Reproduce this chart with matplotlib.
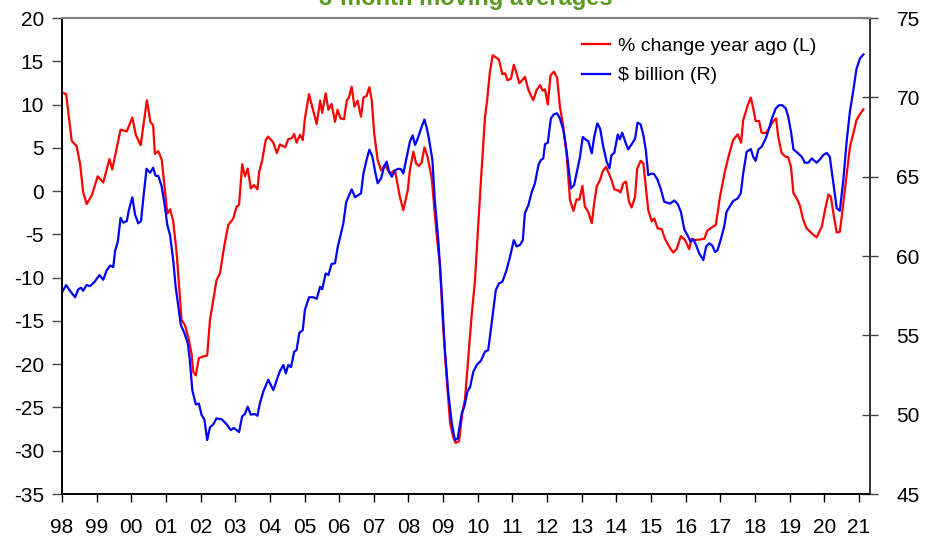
import matplotlib
matplotlib.use("Agg")
import matplotlib.pyplot as plt

plt.rcParams['font.family'] = ['Liberation Sans', 'DejaVu Sans']
plt.rcParams['axes.unicode_minus'] = False

# % change year ago (left axis), decimal years
red_years = [1998.01, 1998.12, 1998.28, 1998.42, 1998.52, 1998.61, 1998.71, 1998.86,
             1999.03, 1999.19, 1999.37, 1999.45, 1999.69, 1999.87, 2000.03, 2000.13,
             2000.27, 2000.45, 2000.55, 2000.63, 2000.68, 2000.78, 2000.88, 2001.04,
             2001.12, 2001.21, 2001.31, 2001.45, 2001.55, 2001.65, 2001.74, 2001.79,
             2001.86, 2001.95, 2002.08, 2002.19, 2002.27, 2002.46, 2002.56, 2002.68,
             2002.80, 2002.94, 2003.04, 2003.11, 2003.20, 2003.28, 2003.36, 2003.45,
             2003.54, 2003.64, 2003.69, 2003.78, 2003.88, 2003.95, 2004.10, 2004.20,
             2004.29, 2004.44, 2004.53, 2004.63, 2004.70, 2004.77, 2004.87, 2004.95,
             2005.01, 2005.13, 2005.22, 2005.35, 2005.45, 2005.51, 2005.61, 2005.69,
             2005.78, 2005.88, 2005.95, 2006.04, 2006.14, 2006.22, 2006.28, 2006.36,
             2006.44, 2006.53, 2006.63, 2006.70, 2006.79, 2006.87, 2006.94, 2007.01,
             2007.11, 2007.21, 2007.32, 2007.47, 2007.61, 2007.75, 2007.85, 2007.98,
             2008.04, 2008.14, 2008.22, 2008.30, 2008.38, 2008.46, 2008.55, 2008.67,
             2008.81, 2008.91, 2009.00, 2009.10, 2009.20, 2009.29, 2009.36, 2009.46,
             2009.55, 2009.63, 2009.73, 2009.82, 2009.92, 2010.01, 2010.11, 2010.21,
             2010.27, 2010.35, 2010.43, 2010.52, 2010.61, 2010.71, 2010.79, 2010.86,
             2010.96, 2011.04, 2011.12, 2011.20, 2011.30, 2011.36, 2011.46, 2011.60,
             2011.70, 2011.80, 2011.87, 2011.94, 2012.02, 2012.10, 2012.20, 2012.29,
             2012.37, 2012.47, 2012.57, 2012.66, 2012.76, 2012.85, 2012.93, 2013.02,
             2013.09, 2013.19, 2013.29, 2013.36, 2013.43, 2013.53, 2013.60, 2013.70,
             2013.80, 2013.86, 2013.94, 2014.04, 2014.12, 2014.20, 2014.28, 2014.36,
             2014.44, 2014.54, 2014.60, 2014.70, 2014.78, 2014.85, 2014.92, 2015.02,
             2015.09, 2015.19, 2015.31, 2015.40, 2015.55, 2015.64, 2015.74, 2015.86,
             2015.98, 2016.10, 2016.17, 2016.27, 2016.41, 2016.54, 2016.62, 2016.75,
             2016.87, 2016.99, 2017.13, 2017.25, 2017.37, 2017.50, 2017.60, 2017.66,
             2017.79, 2017.88, 2017.95, 2018.02, 2018.12, 2018.19, 2018.31, 2018.43,
             2018.53, 2018.61, 2018.67, 2018.77, 2018.87, 2018.96, 2019.04, 2019.11,
             2019.20, 2019.30, 2019.39, 2019.49, 2019.64, 2019.78, 2019.93, 2020.02,
             2020.12, 2020.19, 2020.28, 2020.36, 2020.45, 2020.55, 2020.65, 2020.74,
             2020.84, 2020.93, 2021.03, 2021.13]
red_vals = [11.4, 11.2, 5.8, 5.2, 3.2, -0.1, -1.5, -0.5,
            1.7, 1.0, 3.7, 2.5, 7.1, 6.9, 8.5, 6.5,
            5.3, 10.5, 8.0, 7.6, 4.3, 4.6, 3.6, -2.6,
            -2.1, -3.5, -7.2, -14.9, -15.5, -17.0, -18.8, -20.9,
            -21.3, -19.3, -19.1, -19.0, -14.9, -10.3, -9.5, -6.4,
            -3.9, -3.2, -1.8, -1.6, 3.1, 1.7, 2.6, 0.3,
            0.7, 0.2, 2.2, 3.6, 5.9, 6.3, 5.6, 4.4,
            5.4, 5.05, 6.0, 6.1, 6.6, 5.6, 6.5, 5.9,
            8.4, 11.2, 9.75, 7.75, 10.45, 9.05, 11.3, 9.4,
            10.06, 8.0, 9.4, 8.4, 8.3, 10.5, 10.8, 12.06,
            9.75, 10.45, 8.6, 10.8, 11.0, 12.0, 10.5, 6.7,
            3.6, 2.4, 3.0, 2.05, 2.4, -0.65, -2.2, 0.1,
            2.4, 4.55, 3.2, 2.9, 3.3, 5.05, 4.0, 1.5,
            -4.9, -8.7, -15.7, -21.45, -26.8, -28.4, -29.1, -28.9,
            -25.7, -24.1, -19.1, -14.5, -10.3, -4.1, 2.4, 8.6,
            10.5, 13.8, 15.7, 15.45, 15.2, 13.5, 13.6, 12.8,
            13.0, 14.6, 13.6, 12.45, 12.9, 13.2, 11.7, 10.5,
            11.7, 12.25, 11.6, 11.75, 10.0, 13.4, 13.8, 13.1,
            9.75, 7.4, 4.0, -1.0, -2.3, -0.95, -1.0, 0.6,
            -1.8, -2.4, -3.7, -1.4, 0.5, 1.3, 2.24, 2.8,
            1.85, 1.3, 0.2, 0.1, -0.15, 0.9, 1.1, -1.2,
            -1.9, -0.65, 2.6, 3.5, 3.2, 0.5, -2.2, -3.5,
            -3.15, -4.3, -4.4, -5.5, -6.6, -7.1, -6.7, -5.2,
            -5.65, -6.7, -5.5, -5.65, -5.6, -5.5, -4.6, -4.2,
            -3.9, -0.65, 2.24, 4.2, 5.9, 6.56, 5.6, 8.2,
            9.9, 10.8, 9.55, 8.1, 8.1, 6.75, 6.7, 7.4,
            8.1, 8.4, 6.3, 4.4, 4.0, 3.9, 2.8, -0.25,
            -0.8, -1.7, -3.3, -4.3, -4.9, -5.35, -4.1, -2.2,
            -0.4, -0.65, -3.0, -4.8, -4.7, -1.4, 2.05, 5.1,
            6.7, 8.2, 8.9, 9.45]

# $ billion (right axis), decimal years
blue_years = [1998.01, 1998.12, 1998.23, 1998.38, 1998.47, 1998.55, 1998.61, 1998.71,
              1998.81, 1998.95, 1999.08, 1999.19, 1999.29, 1999.39, 1999.48, 1999.53,
              1999.61, 1999.69, 1999.77, 1999.87, 1999.93, 2000.03, 2000.11, 2000.20,
              2000.28, 2000.35, 2000.44, 2000.54, 2000.63, 2000.70, 2000.78, 2000.88,
              2000.97, 2001.04, 2001.12, 2001.21, 2001.28, 2001.36, 2001.43, 2001.53,
              2001.63, 2001.69, 2001.76, 2001.86, 2001.95, 2002.03, 2002.11, 2002.19,
              2002.27, 2002.37, 2002.46, 2002.61, 2002.75, 2002.87, 2002.96, 2003.11,
              2003.20, 2003.28, 2003.36, 2003.45, 2003.57, 2003.64, 2003.71, 2003.81,
              2003.95, 2004.10, 2004.20, 2004.29, 2004.39, 2004.46, 2004.53, 2004.61,
              2004.70, 2004.77, 2004.85, 2004.95, 2005.01, 2005.13, 2005.25, 2005.35,
              2005.45, 2005.51, 2005.61, 2005.69, 2005.78, 2005.88, 2005.96, 2006.05,
              2006.12, 2006.20, 2006.26, 2006.36, 2006.46, 2006.55, 2006.63, 2006.70,
              2006.79, 2006.87, 2006.96, 2007.03, 2007.11, 2007.21, 2007.30, 2007.37,
              2007.44, 2007.52, 2007.61, 2007.71, 2007.78, 2007.85, 2007.95, 2008.04,
              2008.12, 2008.19, 2008.28, 2008.38, 2008.46, 2008.53, 2008.59, 2008.69,
              2008.76, 2008.86, 2008.96, 2009.05, 2009.15, 2009.25, 2009.34, 2009.42,
              2009.54, 2009.61, 2009.70, 2009.78, 2009.87, 2009.97, 2010.09, 2010.21,
              2010.30, 2010.40, 2010.52, 2010.61, 2010.71, 2010.83, 2010.93, 2011.04,
              2011.12, 2011.22, 2011.30, 2011.36, 2011.46, 2011.56, 2011.65, 2011.75,
              2011.82, 2011.89, 2011.94, 2012.02, 2012.11, 2012.20, 2012.29, 2012.37,
              2012.47, 2012.56, 2012.63, 2012.69, 2012.78, 2012.85, 2012.95, 2013.03,
              2013.11, 2013.19, 2013.29, 2013.36, 2013.45, 2013.53, 2013.62, 2013.72,
              2013.80, 2013.86, 2013.94, 2014.04, 2014.10, 2014.17, 2014.25, 2014.34,
              2014.44, 2014.54, 2014.61, 2014.70, 2014.78, 2014.85, 2014.92, 2015.02,
              2015.09, 2015.19, 2015.29, 2015.38, 2015.55, 2015.67, 2015.77, 2015.86,
              2015.96, 2016.05, 2016.14, 2016.22, 2016.30, 2016.39, 2016.51, 2016.59,
              2016.68, 2016.77, 2016.85, 2016.92, 2017.02, 2017.11, 2017.18, 2017.28,
              2017.37, 2017.50, 2017.59, 2017.66, 2017.76, 2017.88, 2017.95, 2018.02,
              2018.10, 2018.19, 2018.31, 2018.40, 2018.50, 2018.60, 2018.69, 2018.79,
              2018.89, 2018.96, 2019.04, 2019.11, 2019.23, 2019.35, 2019.44, 2019.54,
              2019.64, 2019.78, 2019.88, 2019.97, 2020.07, 2020.16, 2020.25, 2020.36,
              2020.45, 2020.55, 2020.65, 2020.74, 2020.84, 2020.93, 2021.03, 2021.13]
blue_vals = [57.75, 58.17, 57.8, 57.4, 57.9, 58.0, 57.8, 58.17,
             58.1, 58.4, 58.8, 58.5, 59.1, 59.4, 59.3, 60.3,
             60.9, 62.4, 62.1, 62.2, 62.9, 63.7, 62.6, 62.06,
             62.2, 63.7, 65.5, 65.25, 65.56, 65.06, 65.04, 64.36,
             63.1, 61.95, 61.3, 59.74, 58.06, 56.8, 55.65, 55.16,
             54.5, 53.44, 51.55, 50.65, 50.7, 49.97, 49.7, 48.4,
             49.2, 49.4, 49.77, 49.7, 49.4, 49.03, 49.16, 48.9,
             49.9, 50.04, 50.5, 50.0, 50.04, 49.93, 50.7, 51.45,
             52.2, 51.55, 52.2, 52.75, 53.13, 52.6, 53.13, 53.0,
             53.97, 54.07, 55.16, 55.33, 56.6, 57.4, 57.4, 57.3,
             58.06, 57.9, 58.9, 58.8, 59.5, 59.54, 60.6, 61.4,
             62.06, 63.36, 63.7, 64.2, 63.7, 63.84, 63.95, 65.2,
             66.05, 66.7, 66.25, 65.4, 64.58, 64.9, 65.67, 65.94,
             65.3, 65.0, 65.4, 65.5, 65.48, 65.2, 66.25, 67.2,
             67.6, 67.0, 67.48, 68.15, 68.6, 68.04, 67.4, 66.05,
             63.5, 61.0, 57.65, 54.07, 51.35, 49.45, 48.4, 48.5,
             50.1, 50.5, 51.45, 51.76, 52.7, 53.13, 53.4, 53.97,
             54.07, 55.75, 57.85, 58.27, 58.38, 59.1, 59.95, 61.0,
             60.6, 60.7, 61.0, 62.7, 63.2, 64.05, 64.58, 65.73,
             66.05, 66.15, 67.05, 67.14, 68.67, 68.94, 68.99, 68.67,
             67.94, 66.68, 65.4, 64.26, 64.47, 65.2, 66.25, 67.5,
             67.35, 67.24, 66.47, 67.5, 68.36, 68.04, 66.9, 65.94,
             65.52, 66.36, 66.5, 67.66, 67.35, 67.77, 67.24, 66.72,
             67.04, 67.4, 68.4, 68.3, 67.6, 66.68, 65.1, 65.2,
             65.16, 64.8, 64.16, 63.42, 63.3, 63.5, 63.27, 62.8,
             61.68, 61.32, 60.9, 61.05, 60.7, 60.17, 59.74, 60.6,
             60.8, 60.65, 60.25, 60.37, 61.1, 61.84, 62.79, 63.15,
             63.46, 63.63, 63.95, 65.2, 66.57, 66.74, 66.25, 66.0,
             66.72, 66.88, 67.4, 67.98, 68.74, 69.3, 69.5, 69.5,
             69.3, 68.77, 67.83, 66.72, 66.5, 66.25, 65.88, 65.88,
             66.15, 65.88, 66.1, 66.36, 66.5, 66.25, 64.8, 63.0,
             62.85, 64.8, 67.3, 69.1, 70.46, 71.8, 72.45, 72.7]

year_ticks = list(range(1998, 2022))
year_labels = ['%02d' % (y % 100) for y in year_ticks]
left_ticks = list(range(-35, 21, 5))
right_ticks = list(range(45, 76, 5))

fig = plt.figure(figsize=(9.34, 5.39), dpi=100)
ax = fig.add_axes([62 / 934, 1 - 494 / 539, 808 / 934, 476 / 539])
ax2 = ax.twinx()

l1, = ax.plot(red_years, red_vals, color='#ff0000', lw=1.6, label='% change year ago (L)')
l2, = ax2.plot(blue_years, blue_vals, color='#0000ff', lw=1.6, label='$ billion (R)')

ax.set_xlim(1998, 2021.32)
ax.set_ylim(-35, 20)
ax2.set_ylim(45, 75)
ax.set_xticks(year_ticks)
ax.set_xticklabels(year_labels)
ax.set_yticks(left_ticks)
ax2.set_yticks(right_ticks)

ax.tick_params(axis='x', direction='out', length=6, width=1, pad=11, labelsize=15)
ax.tick_params(axis='y', direction='out', length=7, width=1, pad=6, labelsize=15, color='#444444')
ax2.tick_params(axis='y', direction='inout', length=12, width=1, pad=13, labelsize=15, color='#444444')

for a in (ax, ax2):
    for s in a.spines.values():
        s.set_linewidth(1.2)
    a.spines['top'].set_color('#808080')
    a.spines['top'].set_linewidth(1.5)
    a.spines['left'].set_color('black')
    a.spines['bottom'].set_color('black')
    a.spines['right'].set_color('#333333')

leg = ax2.legend(handles=[l1, l2], loc='upper left', bbox_to_anchor=(0.643, 0.96),
                 frameon=False, fontsize=14, handlelength=1.45, handletextpad=0.4,
                 labelspacing=0.62, borderpad=0, borderaxespad=0)

fig.text(466 / 934, 1 - 5 / 539, '3-month moving averages', color='#5a9a1e',
         fontsize=17, fontweight='bold', ha='center', va='baseline')

fig.savefig('out.png', dpi=100)
